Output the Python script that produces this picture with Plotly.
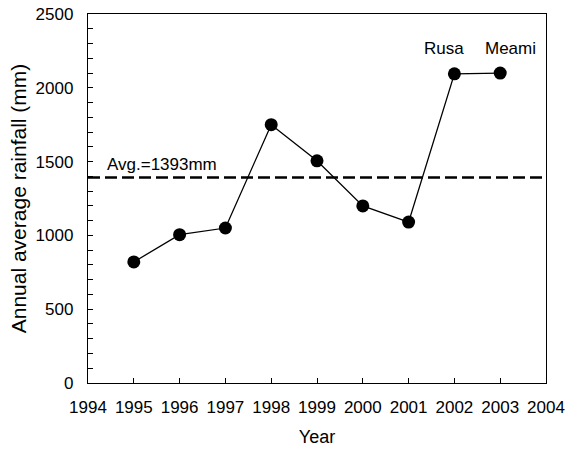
import plotly.graph_objects as go

years = [1995, 1996, 1997, 1998, 1999, 2000, 2001, 2002, 2003]
rainfall = [820, 1005, 1050, 1750, 1505, 1200, 1090, 2095, 2100]
avg_value = 1393
avg_x = [1994, 2004]
storm_labels = ["Rusa", "Meami"]
storm_years = [2002, 2003]
storm_shift = [-0.22, 0.22]

font_family = "Liberation Sans, Arial, sans-serif"

fig = go.Figure()
fig.add_trace(go.Scatter(
    x=avg_x, y=[avg_value, avg_value], mode="lines",
    line=dict(color="black", width=2.5, dash="12px,5px"),
    hoverinfo="skip", showlegend=False))
fig.add_trace(go.Scatter(
    x=years, y=rainfall, mode="lines+markers",
    line=dict(color="black", width=1.3),
    marker=dict(color="black", size=13),
    showlegend=False))

fig.add_annotation(x=1994.38, y=1480, text="Avg.=1393mm", showarrow=False,
                   xanchor="left", yanchor="middle",
                   font=dict(family=font_family, size=17, color="black"))
for lab, yr, sh in zip(storm_labels, storm_years, storm_shift):
    fig.add_annotation(x=yr + sh, y=2265, text=lab, showarrow=False,
                       xanchor="center", yanchor="middle",
                       font=dict(family=font_family, size=17, color="black"))

fig.update_layout(
    width=578, height=453,
    margin=dict(l=88, r=32, t=14, b=70),
    paper_bgcolor="white", plot_bgcolor="white",
    font=dict(family=font_family, size=17, color="black"),
)
fig.update_xaxes(
    range=[1994, 2004], dtick=1, tick0=1994,
    showgrid=False, zeroline=False, automargin=False,
    showline=True, linecolor="black", linewidth=1.3, mirror=True,
    ticks="inside", ticklen=5, tickcolor="black", tickwidth=1,
    tickfont=dict(size=17), ticklabelstandoff=8,
    title=dict(text="Year", font=dict(size=18), standoff=14),
)
fig.update_yaxes(
    range=[0, 2500], dtick=500, tick0=0,
    showgrid=False, zeroline=False, automargin=False,
    showline=True, linecolor="black", linewidth=1.3, mirror=True,
    ticks="inside", ticklen=5, tickcolor="black", tickwidth=1,
    minor=dict(dtick=100, ticks="inside", ticklen=5, tickcolor="black", tickwidth=1, showgrid=False),
    tickfont=dict(size=17), ticklabelstandoff=10,
    title=dict(text="Annual average rainfall (mm)", font=dict(size=21), standoff=3),
)

fig.write_html("out.html")
